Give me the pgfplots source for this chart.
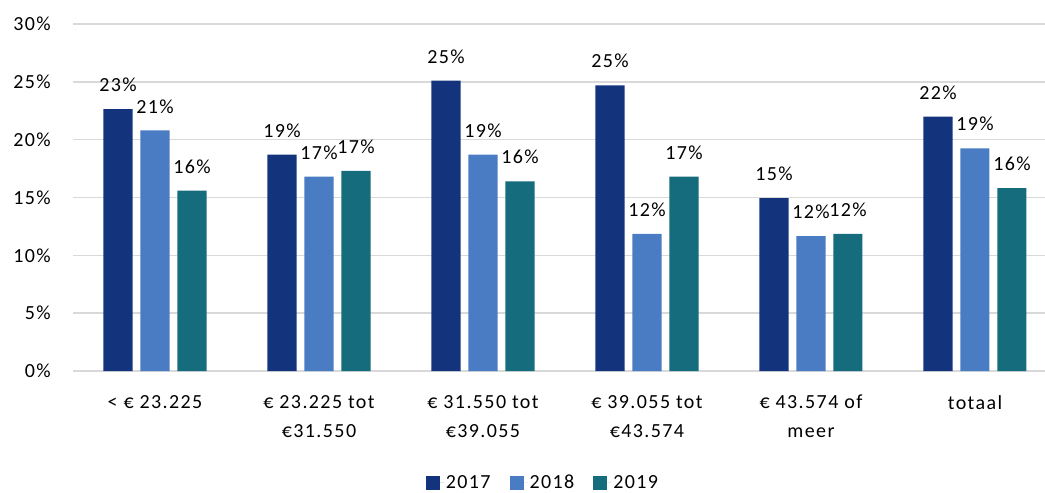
\documentclass[border=0pt]{standalone}
\usepackage{fontspec}
\setmainfont{Carlito}[LetterSpace=7]
\usepackage{pgfplots}
\pgfplotsset{compat=1.18}
\definecolor{c17}{HTML}{13347C}
\definecolor{c18}{HTML}{4A7CC4}
\definecolor{c19}{HTML}{146C7C}
\definecolor{gridc}{HTML}{D9D9D9}
\newcommand{\lblfont}{\fontsize{20bp}{29bp}\selectfont}
\begin{document}
\begin{tikzpicture}
\useasboundingbox (-73bp,-122bp) rectangle (972bp,371bp);
\begin{axis}[
  at={(0,0)}, anchor=south west,
  scale only axis, width=972bp, height=347bp,
  xmin=-0.5, xmax=5.427, ymin=0, ymax=30,
  ybar, clip=false,
  axis line style={draw=none},
  major tick length=0pt,
  ymajorgrids, grid style={gridc, line width=1.6bp},
  ytick={0,5,10,15,20,25,30},
  yticklabels={0\%,5\%,10\%,15\%,20\%,25\%,30\%},
  yticklabel style={font=\lblfont, anchor=east, inner sep=0pt, xshift=-22bp},
  xtick={0,1,2,3,4,5},
  xticklabels={{< € 23.225},{€ 23.225 tot\\€31.550},{€ 31.550 tot\\€39.055},{€ 39.055 tot\\€43.574},{€ 43.574 of\\meer},{totaal}},
  xticklabel style={font=\lblfont, align=center, anchor=north, inner sep=0pt, yshift=-24bp},
  point meta=y,
  nodes near coords={\pgfmathprintnumber[fixed,precision=0,assume math mode=true]{\pgfplotspointmeta}\%},
  every node near coord/.append style={font=\lblfont, anchor=south, inner sep=0pt, yshift=17bp},
  legend columns=3,
  legend style={at={(0.4835,-0.322)}, anchor=center, draw=none, font=\lblfont,
    /tikz/every even column/.append style={column sep=17bp}},
  legend image code/.code={\path (0bp,0bp) -- (18bp,0bp); \fill[#1] (0bp,-7bp) rectangle (14bp,7bp);},
]
\addplot[fill=c17, draw=none, bar width=0.177, bar shift=-0.2256] coordinates {(0,22.65) (1,18.7) (2,25.1) (3,24.7) (4,14.95) (5,22.0)};
\addplot[fill=c18, draw=none, bar width=0.177, bar shift=0] coordinates {(0,20.8) (1,16.8) (2,18.7) (3,11.85) (4,11.65) (5,19.25)};
\addplot[fill=c19, draw=none, bar width=0.177, bar shift=0.2256] coordinates {(0,15.6) (1,17.3) (2,16.4) (3,16.8) (4,11.85) (5,15.8)};
\legend{2017,2018,2019}
\end{axis}
\end{tikzpicture}
\end{document}
